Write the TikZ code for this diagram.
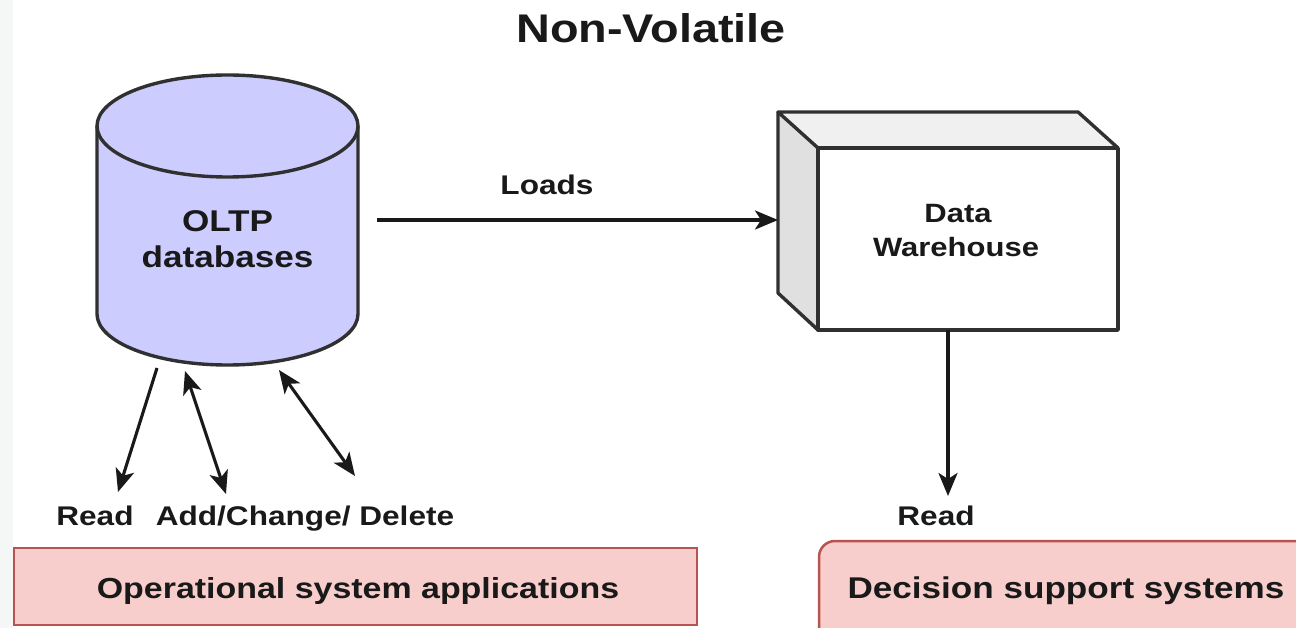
\documentclass[tikz,border=0pt]{standalone}
\usepackage{fontspec}
\setmainfont{Liberation Sans}
\usetikzlibrary{arrows.meta}
\definecolor{cylfill}{RGB}{204,204,255}
\definecolor{pinkfill}{RGB}{248,206,204}
\definecolor{pinkdraw}{RGB}{184,84,80}
\definecolor{stripgray}{RGB}{245,246,246}
\definecolor{topgray}{RGB}{240,240,240}
\definecolor{sidegray}{RGB}{224,224,224}
\definecolor{txt}{RGB}{25,25,25}
\tikzset{
  lbl/.style={inner sep=0pt, text=txt, xscale=1.17, anchor=base},
  conn/.style={line width=3.1pt, draw=txt},
  tip/.tip={Stealth[length=23pt,width=19pt,inset=6pt]},
  shapeline/.style={line width=3.4pt, draw=txt!90, line join=round},
}
\begin{document}
\begin{tikzpicture}[x=1pt,y=-1pt]
\useasboundingbox (0,0) rectangle (1296,628);
\fill[stripgray] (0,0) rectangle (13,628);

% title
\node[lbl, font=\bfseries\fontsize{40}{48}\selectfont] (title) at (651,43) {Non-Volatile};

% cylinder
\fill[cylfill] (97,126) -- (97,314) arc[start angle=180, end angle=0, x radius=130.5, y radius=51]
  -- (358,126) arc[start angle=0, end angle=-180, x radius=130.5, y radius=51] -- cycle;
\draw[shapeline] (97,126) -- (97,314) arc[start angle=180, end angle=0, x radius=130.5, y radius=51]
  -- (358,126) arc[start angle=0, end angle=-180, x radius=130.5, y radius=51] -- cycle;
\draw[shapeline] (97,126) arc[start angle=180, end angle=0, x radius=130.5, y radius=51];
\node[inner sep=0pt, minimum width=261pt, minimum height=290pt] (oltp) at (227.5,220) {};
\node[lbl, font=\bfseries\fontsize{30}{36}\selectfont] (oltpA) at (227.5,232) {OLTP};
\node[lbl, font=\bfseries\fontsize{30}{36}\selectfont] (oltpB) at (227.5,268) {databases};

% data warehouse cube
\fill[topgray] (778,112) -- (1078,112) -- (1118,148) -- (818,148) -- cycle;
\fill[sidegray] (778,112) -- (818,148) -- (818,330) -- (778,293) -- cycle;
\node[inner sep=0pt, minimum width=300pt, minimum height=182pt, fill=white, shapeline] (dw) at (968,239) {};
\draw[shapeline] (818,148) -- (778,112) -- (1078,112) -- (1118,148);
\draw[shapeline] (778,112) -- (778,293) -- (818,330);
\node[lbl, font=\bfseries\fontsize{26.5}{31}\selectfont] (dwA) at (958,223) {Data};
\node[lbl, font=\bfseries\fontsize{26.5}{31}\selectfont] (dwB) at (956,257) {Warehouse};

% loads
\coordinate (loadsS) at (377,220);
\coordinate (loadsE) at (778,220);
\draw[conn, -{tip}] (loadsS) -- (loadsE);
\node[lbl, font=\bfseries\fontsize{27}{32}\selectfont] (loads) at (547,195) {Loads};

% left arrows
\coordinate (r1a) at (157,368); \coordinate (r1b) at (118,492);
\coordinate (r2a) at (185,371); \coordinate (r2b) at (226,494);
\coordinate (r3a) at (279,370); \coordinate (r3b) at (355,476);
\draw[conn, -{tip}] (r1a) -- (r1b);
\draw[conn, {tip}-{tip}] (r2a) -- (r2b);
\draw[conn, {tip}-{tip}] (r3a) -- (r3b);
\node[lbl, font=\bfseries\fontsize{27}{32}\selectfont] (readL) at (95,525) {Read};
\node[lbl, font=\bfseries\fontsize{27}{32}\selectfont] (acd) at (305,525) {Add/Change/ Delete};

% right arrow
\coordinate (dwS) at (948,330);
\coordinate (readTip) at (948,496);
\draw[conn, -{tip}] (dwS) -- (readTip);
\node[lbl, font=\bfseries\fontsize{27}{32}\selectfont] (readR) at (936,525) {Read};

% bottom boxes
\node[inner sep=0pt, minimum width=683pt, minimum height=77pt, fill=pinkfill, draw=pinkdraw, line width=2.5pt] (opbox) at (355.5,586.5) {};
\node[lbl, font=\bfseries\fontsize{29}{35}\selectfont] (optext) at (358,598) {Operational system applications};
\draw[fill=pinkfill, draw=pinkdraw, line width=2.5pt, rounded corners=16pt] (819,660) -- (819,541) -- (1320,541) -- (1320,660);
\node[inner sep=0pt, minimum width=501pt, minimum height=119pt] (dsbox) at (1069.5,600) {};
\node[lbl, font=\bfseries\fontsize{30}{36}\selectfont] (dstext) at (1066,598) {Decision support systems};
\end{tikzpicture}
\end{document}
